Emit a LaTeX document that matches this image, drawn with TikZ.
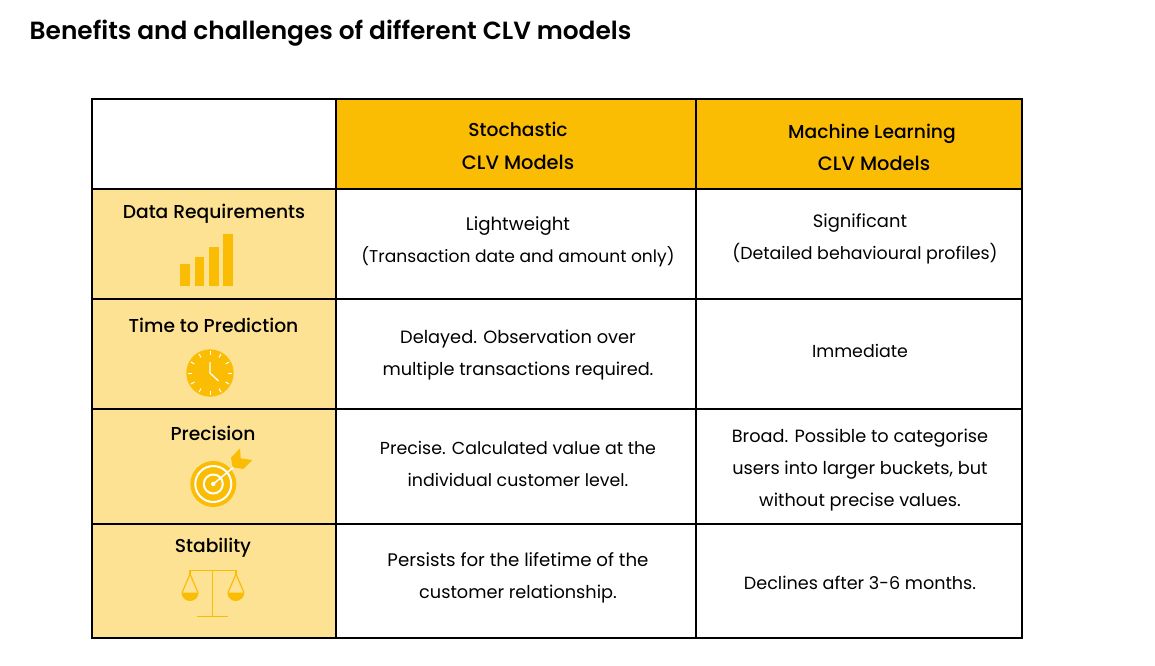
\documentclass[tikz,border=0pt]{standalone}
\usepackage{fontspec}
\setmainfont{Poppins}
\newfontfamily\medfont{Poppins Medium}
\newfontfamily\semifont{Poppins SemiBold}
\definecolor{gold}{HTML}{FBBC04}
\definecolor{pale}{HTML}{FDE293}
\tikzset{x=1pt,y=-1pt,
 cell/.style={draw=black,line width=1.5pt,anchor=north west,inner sep=0pt,outer sep=0pt},
 txt/.style={font=\fontsize{#1}{20}\selectfont,text=black,inner sep=0pt,anchor=base},
 txt/.default=17.4,
 hd/.style={font=\medfont\fontsize{#1}{20}\selectfont,text=black,inner sep=0pt,anchor=base},
 hd/.default=18.7}
\newcommand{\cellbox}[6]{\node[cell,minimum width=#3 pt,minimum height=#4 pt,fill=#5] (#6) at (#1,#2) {};}
\begin{document}
\begin{tikzpicture}
\useasboundingbox (0,0) rectangle (1155,665);
\fill[white] (0,0) rectangle (1155,665);
\node[anchor=base west,inner sep=0pt,font=\semifont\fontsize{24.85}{26}\selectfont] (title) at (29.5,39) {Benefits and challenges of different CLV models};
% cells
\cellbox{92}{99}{244}{90}{white}{c00}
\cellbox{336}{99}{360}{90}{gold}{c01}
\cellbox{696}{99}{326}{90}{gold}{c02}
\cellbox{92}{189}{244}{110}{pale}{c10}
\cellbox{336}{189}{360}{110}{white}{c11}
\cellbox{696}{189}{326}{110}{white}{c12}
\cellbox{92}{299}{244}{110}{pale}{c20}
\cellbox{336}{299}{360}{110}{white}{c21}
\cellbox{696}{299}{326}{110}{white}{c22}
\cellbox{92}{409}{244}{115}{pale}{c30}
\cellbox{336}{409}{360}{115}{white}{c31}
\cellbox{696}{409}{326}{115}{white}{c32}
\cellbox{92}{524}{244}{114}{pale}{c40}
\cellbox{336}{524}{360}{114}{white}{c41}
\cellbox{696}{524}{326}{114}{white}{c42}
% header
\node[hd] (h1a) at (518,136.5) {Stochastic};
\node[hd=19.4] (h1b) at (518,169.5) {CLV Models};
\node[hd] (h2a) at (872,138) {Machine Learning};
\node[hd=19.4] (h2b) at (874,170) {CLV Models};
% row heads
\node[hd] (r1) at (214,218.5) {Data Requirements};
\node[hd] (r2) at (213.5,332.5) {Time to Prediction};
\node[hd] (r3) at (213,440.5) {Precision};
\node[hd] (r4) at (213,552.5) {Stability};
% body
\node[txt=18.2] (a1) at (518,230) {Lightweight};
\node[txt=17.1] (a2) at (518,262) {(Transaction date and amount only)};
\node[txt=17.9] (b1) at (860,227) {Significant};
\node[txt] (b2) at (865,259) {(Detailed behavioural profiles)};
\node[txt=17.8] (d1) at (518,343) {Delayed. Observation over};
\node[txt=17.7] (d2) at (518,375) {multiple transactions required.};
\node[txt] (e1) at (860,357) {Immediate};
\node[txt] (f1) at (518,454) {Precise. Calculated value at the};
\node[txt] (f2) at (518,486) {individual customer level.};
\node[txt=17.7] (g1) at (860,442) {Broad. Possible to categorise};
\node[txt=17.7] (g2) at (860,474) {users into larger buckets, but};
\node[txt=17.7] (g3) at (860,506) {without precise values.};
\node[txt=18.2] (k1) at (518,566) {Persists for the lifetime of the};
\node[txt=17.7] (k2) at (518,598) {customer relationship.};
\node[txt=17.6] (l1) at (860,589) {Declines after 3-6 months.};
% bars icon
\fill[gold] (180,263.5) rectangle (190,286);
\fill[gold] (194.5,256.5) rectangle (204,286);
\fill[gold] (209,246.5) rectangle (218.5,286);
\fill[gold] (223,233.5) rectangle (233,286);
% clock icon
\fill[gold] (210,373) circle (23.7);
\foreach \a in {0,30,...,330}{
 \draw[white,line width=1pt,shift={(210,373)}] (\a:22) -- (\a:18);
}
\draw[white,line width=1.3pt] (210,362) -- (210,373) -- (218.5,381);
% target icon
\fill[gold] (213.3,484) circle (23);
\draw[white,line width=2pt] (213.3,484) circle (18);
\draw[white,line width=2pt] (213.3,484) circle (9.5);
\fill[white] (213.3,484) circle (2.2);
\draw[white,line width=1.5pt] (213.3,484) -- (235,466);
\fill[gold] (231,457.7) -- (240,448.3) -- (240.7,458.3) -- (252.3,460) -- (243.3,469) -- (232.7,467.3) -- cycle;
% scales icon
\draw[gold,line width=1.4pt] (190,575) -- (190,570.7) -- (236,570.7) -- (236,575);
\draw[gold,line width=1.4pt] (212.7,570.7) -- (212.7,616);
\draw[gold,line width=1.4pt] (197.3,616.3) -- (228,616.3);
\draw[gold,line width=1.2pt] (182,592.7) -- (190,574) -- (198,592.7);
\draw[gold,line width=1.2pt] (228,592.7) -- (236,574) -- (244,592.7);
\fill[gold] (181.5,592.5) arc[start angle=180,end angle=0,radius=8.5] -- cycle;
\fill[gold] (227.3,592.5) arc[start angle=180,end angle=0,radius=8.5] -- cycle;
\end{tikzpicture}
\end{document}
